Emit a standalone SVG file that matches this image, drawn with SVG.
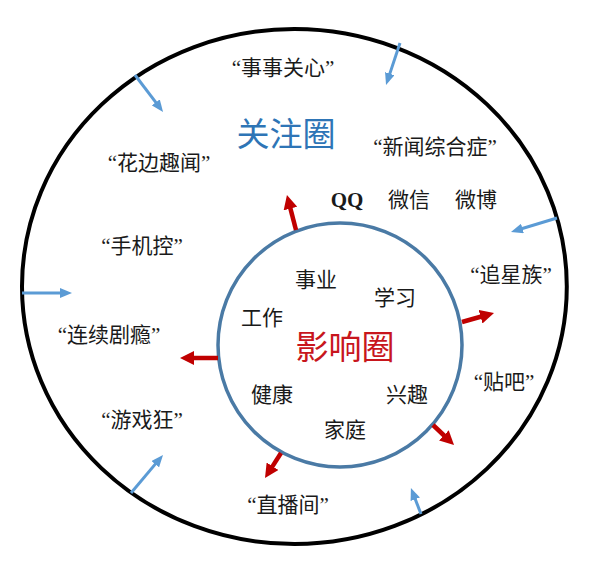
<svg xmlns="http://www.w3.org/2000/svg" width="600" height="563" viewBox="0 0 600 563">
<style>
.t{font-family:"Liberation Serif","Noto Sans CJK SC",serif;font-size:21px;fill:#1a1a1a;text-anchor:middle;dominant-baseline:central}
.big{font-family:"Noto Sans CJK SC",sans-serif;font-size:33px;text-anchor:middle;dominant-baseline:central}
.blue{stroke:#5b9bd5;stroke-width:3;fill:none;marker-end:url(#ab)}
.red{stroke:#c00000;stroke-width:4.5;fill:none;marker-end:url(#ar)}
</style>
<defs>
<marker id="ab" markerUnits="userSpaceOnUse" markerWidth="12" markerHeight="10" viewBox="0 0 12 10" refX="1" refY="5" orient="auto"><path d="M0,0 L12,5 L0,10 z" fill="#5b9bd5"/></marker>
<marker id="ar" markerUnits="userSpaceOnUse" markerWidth="14" markerHeight="14" viewBox="0 0 14 14" refX="1" refY="7" orient="auto"><path d="M0,0 L14,7 L0,14 z" fill="#c00000"/></marker>
</defs>
<rect width="600" height="563" fill="#fff"/>
<g id="outer"><ellipse cx="294.4" cy="286.5" rx="272.4" ry="257.5" fill="none" stroke="#000" stroke-width="4"/></g>
<g id="inner"><circle cx="340" cy="345" r="122" fill="none" stroke="#4a7aa5" stroke-width="3.5"/></g>
<g id="connectors">
<path class="blue" d="M135,75 L156.4,103.2"/>
<path class="blue" d="M400,43 L389.5,74.6"/>
<path class="blue" d="M557,218 L521.5,228.8"/>
<path class="blue" d="M22,293 L61,293"/>
<path class="blue" d="M131,493 L155.9,463.4"/>
<path class="blue" d="M421,514 L414.9,498.3"/>
<path class="red" d="M296,230 L290.2,207.6"/>
<path class="red" d="M218,358 L193,358"/>
<path class="red" d="M462,322 L481.5,316.5"/>
<path class="red" d="M281,453 L272,467.1"/>
<path class="red" d="M433,425 L444.6,436"/>
</g>
<g id="labels-outer">
<text class="t" x="283" y="68">“事事关心”</text>
<text class="big" x="286" y="132" fill="#2e75b6">关注圈</text>
<text class="t" x="435" y="147">“新闻综合症”</text>
<text class="t" x="159" y="163">“花边趣闻”</text>
<text class="t" x="347" y="200" font-weight="bold">QQ</text>
<text class="t" x="409" y="200">微信</text>
<text class="t" x="476" y="200">微博</text>
<text class="t" x="142" y="246">“手机控”</text>
<text class="t" x="511" y="275">“追星族”</text>
<text class="t" x="109" y="335">“连续剧瘾”</text>
<text class="t" x="504" y="382">“贴吧”</text>
<text class="t" x="142" y="420">“游戏狂”</text>
<text class="t" x="288" y="505">“直播间”</text>
</g>
<g id="labels-inner">
<text class="t" x="316" y="280">事业</text>
<text class="t" x="395" y="298">学习</text>
<text class="t" x="262" y="318">工作</text>
<text class="big" x="345" y="345" fill="#c8161d">影响圈</text>
<text class="t" x="272" y="395">健康</text>
<text class="t" x="407" y="395">兴趣</text>
<text class="t" x="345" y="430">家庭</text>
</g>
</svg>
